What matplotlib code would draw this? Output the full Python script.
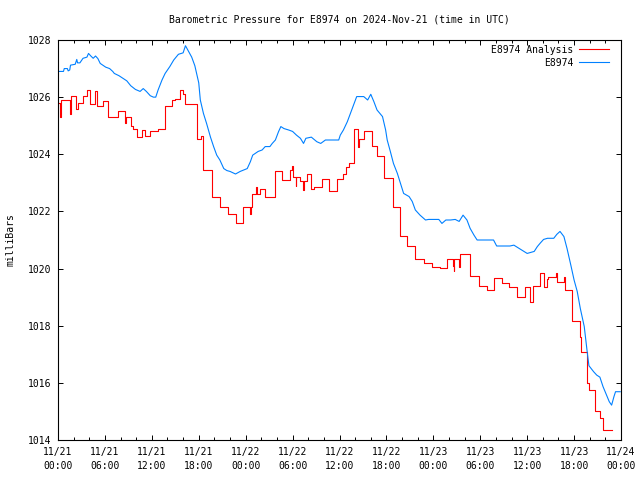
import matplotlib
matplotlib.use("Agg")
import matplotlib.pyplot as plt
import matplotlib.dates as mdates
import pandas as pd

start = pd.Timestamp("2024-11-21 00:00")

# E8974 Analysis (hourly steps, hours after start -> mb)
analysis_h = [0.0, 0.25, 0.4, 1.5, 1.6, 2.35, 2.5, 3.2, 3.7, 4.1, 4.7, 5.0, 5.8, 6.45,
              7.7, 8.6, 8.75, 9.3, 9.6, 10.1, 10.7, 11.1, 11.8, 12.8, 13.7, 14.6, 15.0,
              15.6, 16.0, 16.3, 17.75, 18.3, 18.6, 19.7, 20.7, 21.8, 22.7, 23.7, 24.6,
              24.65, 24.8, 25.3, 25.5, 25.85, 26.5, 27.8, 28.6, 29.7, 29.9, 30.1, 30.4,
              30.5, 31.0, 31.3, 31.4, 31.8, 32.3, 32.7, 33.8, 34.6, 35.7, 36.5, 36.8,
              37.2, 37.8, 38.4, 38.5, 39.1, 40.2, 40.8, 41.65, 42.8, 43.8, 44.6, 45.7,
              46.8, 47.8, 48.9, 49.8, 50.5, 50.6, 50.65, 51.3, 51.45, 52.7, 53.8, 54.9,
              55.7, 56.8, 57.7, 58.7, 59.7, 60.4, 60.7, 61.7, 62.2, 62.5, 62.7, 63.7,
              63.8, 64.7, 64.9, 65.05, 65.77, 66.76, 66.9, 67.6, 67.9, 68.7, 69.3, 69.7,
              70.8]
analysis_mb = [1025.8, 1025.3, 1025.9, 1025.4, 1026.05, 1025.6, 1025.8, 1026.05, 1026.25,
               1025.75, 1026.2, 1025.7, 1025.85, 1025.3, 1025.5, 1025.1, 1025.3, 1025.0,
               1024.9, 1024.6, 1024.85, 1024.65, 1024.8, 1024.9, 1025.7, 1025.9, 1025.95,
               1026.25, 1026.1, 1025.75, 1024.55, 1024.65, 1023.45, 1022.5, 1022.15,
               1021.9, 1021.6, 1022.15, 1021.9, 1022.15, 1022.6, 1022.85, 1022.6, 1022.8,
               1022.5, 1023.4, 1023.1, 1023.45, 1023.6, 1023.2, 1022.9, 1023.2, 1023.05,
               1022.75, 1023.05, 1023.3, 1022.8, 1022.85, 1023.15, 1022.7, 1023.15,
               1023.3, 1023.55, 1023.7, 1024.9, 1024.25, 1024.55, 1024.8, 1024.3, 1023.95,
               1023.16, 1022.17, 1021.15, 1020.8, 1020.35, 1020.2, 1020.07, 1020.03,
               1020.33, 1020.1, 1019.9, 1020.33, 1020.05, 1020.5, 1019.75, 1019.4,
               1019.25, 1019.68, 1019.48, 1019.37, 1019.02, 1019.37, 1018.82, 1019.4,
               1019.83, 1019.35, 1019.65, 1019.7, 1019.86, 1019.52, 1019.7, 1019.25,
               1019.25, 1018.16, 1017.6, 1017.07, 1016.0, 1015.74, 1015.0, 1014.78,
               1014.35, 1014.35]

# E8974 observations
obs_h = [0.0, 0.7, 0.8, 1.2, 1.3, 1.5, 1.6, 2.2, 2.4, 2.5, 2.8, 3.2, 3.7, 3.9, 4.2, 4.5,
         4.8, 5.1, 5.4, 6.1, 6.6, 7.0, 7.2, 7.8, 8.3, 8.8, 9.3, 9.9, 10.5, 10.9, 11.3,
         11.8, 12.2, 12.5, 12.8, 13.3, 13.7, 14.3, 14.8, 15.4, 16.0, 16.3, 16.6, 17.1,
         17.5, 18.0, 18.2, 18.6, 19.0, 19.5, 19.9, 20.3, 20.7, 21.2, 21.6, 22.0, 22.7,
         23.3, 24.2, 24.6, 24.9, 25.6, 26.1, 26.5, 27.1, 27.4, 27.8, 28.2, 28.5, 28.9,
         29.5, 30.0, 30.5, 31.0, 31.4, 31.7, 32.4, 33.1, 33.6, 34.2, 35.9, 36.1, 36.5,
         37.0, 37.4, 37.8, 38.2, 39.1, 39.6, 40.0, 40.4, 40.8, 41.5, 41.9, 42.1, 42.5,
         42.9, 43.4, 43.8, 44.2, 44.9, 45.3, 45.7, 46.3, 47.0, 47.4, 48.7, 49.1, 49.6,
         50.2, 50.8, 51.3, 51.8, 52.3, 52.7, 53.2, 53.6, 55.7, 56.1, 57.8, 58.3, 59.0,
         60.0, 60.9, 61.3, 61.7, 62.1, 62.6, 63.4, 63.8, 64.2, 64.7, 65.1, 65.6, 66.0,
         66.4, 66.8, 67.3, 67.7, 67.9, 68.5, 68.9, 69.3, 69.7, 70.1, 70.5, 70.8, 71.1,
         71.3, 71.9]
obs_mb = [1026.9, 1026.9, 1027.0, 1027.0, 1026.92, 1026.95, 1027.12, 1027.15, 1027.32,
          1027.2, 1027.2, 1027.36, 1027.4, 1027.53, 1027.44, 1027.36, 1027.44, 1027.35,
          1027.18, 1027.05, 1027.0, 1026.9, 1026.83, 1026.75, 1026.66, 1026.57, 1026.4,
          1026.27, 1026.2, 1026.3, 1026.2, 1026.05, 1026.0, 1026.0, 1026.25, 1026.6,
          1026.83, 1027.07, 1027.3, 1027.5, 1027.55, 1027.8, 1027.65, 1027.4, 1027.1,
          1026.5, 1025.9, 1025.43, 1025.08, 1024.6, 1024.27, 1023.97, 1023.8, 1023.5,
          1023.43, 1023.4, 1023.31, 1023.4, 1023.5, 1023.74, 1023.97, 1024.1, 1024.15,
          1024.27, 1024.27, 1024.38, 1024.5, 1024.79, 1024.97, 1024.9, 1024.85, 1024.8,
          1024.67, 1024.56, 1024.38, 1024.56, 1024.6, 1024.44, 1024.38, 1024.5, 1024.5,
          1024.67, 1024.85, 1025.14, 1025.43, 1025.72, 1026.02, 1026.02, 1025.9, 1026.1,
          1025.84, 1025.55, 1025.32, 1024.85, 1024.5, 1024.1, 1023.68, 1023.33, 1022.98,
          1022.63, 1022.52, 1022.35, 1022.05, 1021.87, 1021.7, 1021.72, 1021.72,
          1021.58, 1021.7, 1021.7, 1021.72, 1021.65, 1021.87, 1021.7, 1021.41, 1021.17,
          1021.0, 1021.0, 1020.79, 1020.79, 1020.82, 1020.7, 1020.53, 1020.6, 1020.77,
          1020.9, 1021.02, 1021.06, 1021.06, 1021.2, 1021.3, 1021.12, 1020.7, 1020.1,
          1019.6, 1019.2, 1018.6, 1017.97, 1017.03, 1016.6, 1016.39, 1016.27, 1016.2,
          1015.87, 1015.6, 1015.34, 1015.22, 1015.52, 1015.69, 1015.69]

y_ticks = [1014, 1016, 1018, 1020, 1022, 1024, 1026, 1028]

plt.rcParams["font.family"] = "DejaVu Sans Mono"
plt.rcParams["font.size"] = 7

analysis_t = start + pd.to_timedelta(analysis_h, unit="h")
obs_t = start + pd.to_timedelta(obs_h, unit="h")

fig = plt.figure(figsize=(6.4, 4.8), dpi=100)
ax = fig.add_axes([58 / 640, 40 / 480, 563 / 640, 400 / 480])

ax.plot(analysis_t, analysis_mb, color="#ff0000", lw=0.8, drawstyle="steps-post",
        label="E8974 Analysis")
ax.plot(obs_t, obs_mb, color="#0080ff", lw=0.8, label="E8974")

ax.set_xlim(start, start + pd.Timedelta(hours=72))
ax.set_ylim(1014, 1028)
ax.set_yticks(y_ticks)
ax.xaxis.set_major_locator(mdates.HourLocator(byhour=[0, 6, 12, 18]))
ax.xaxis.set_minor_locator(mdates.HourLocator(interval=2))
ax.xaxis.set_major_formatter(mdates.DateFormatter("%m/%d\n%H:%M"))
ax.tick_params(which="both", direction="in", top=True, right=True, width=0.7,
               labelsize=7)
ax.tick_params(which="major", length=3.6)
ax.tick_params(which="minor", length=2.2)
ax.tick_params(axis="x", pad=5)
ax.tick_params(axis="y", pad=5)
for s in ax.spines.values():
    s.set_linewidth(0.8)

ax.set_ylabel("milliBars")
ax.yaxis.set_label_coords(-0.075, 0.5)
# title centred over the plot area, like gnuplot
fig.text((58 + 621) / 2 / 640, 1 - 20 / 480,
         "Barometric Pressure for E8974 on 2024-Nov-21 (time in UTC)",
         ha="center", va="center", fontsize=7)

ax.legend(loc="upper right", bbox_to_anchor=(1 - 2 / 563, 1 + 5 / 400), frameon=False,
          markerfirst=False, handlelength=3.1, handletextpad=0.6, labelspacing=0.3,
          borderaxespad=0.6, fontsize=7)

fig.canvas.draw()
for lab in ax.get_xticklabels():
    lab.set_linespacing(1.45)

fig.savefig("out.png", dpi=100)
